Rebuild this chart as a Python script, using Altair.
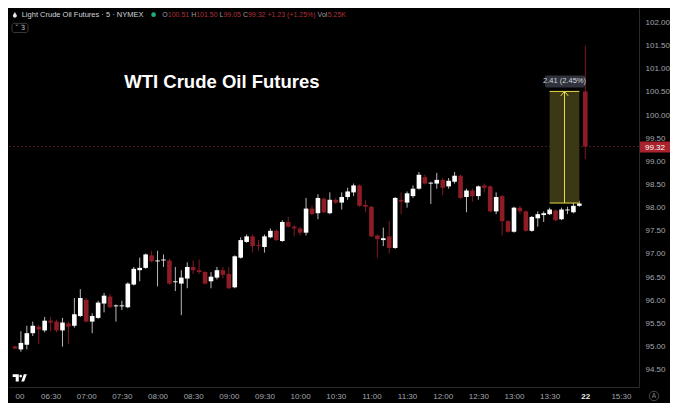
import altair as alt
import pandas as pd

# ---------------- data ----------------
opens = [95.00, 94.94, 95.04, 95.29, 95.43, 95.35, 95.56, 95.54, 95.35, 95.50,
         95.45, 95.66, 96.01, 95.54, 95.62, 95.93, 96.08, 95.87, 95.87, 95.85,
         96.34, 96.65, 96.70, 96.97, 96.84, 96.86, 96.86, 96.39, 96.36, 96.47,
         96.72, 96.65, 96.61, 96.41, 96.49, 96.65, 96.57, 96.28, 96.92, 97.26,
         97.38, 97.19, 97.15, 97.36, 97.50, 97.28, 97.69, 97.59, 97.55, 97.46,
         97.98, 97.88, 98.19, 97.88, 98.17, 98.11, 98.23, 98.33, 98.48, 98.06,
         98.02, 97.40, 97.30, 97.38, 97.13, 98.17, 98.11, 98.25, 98.41, 98.66,
         98.52, 98.52, 98.60, 98.46, 98.56, 98.69, 98.23, 98.37, 98.25, 98.48,
         98.46, 97.92, 98.25, 97.71, 97.48, 98.00, 97.92, 97.50, 97.77, 97.84,
         97.86, 97.94, 97.75, 97.94, 97.90, 98.04, 100.51]
highs = [95.02, 95.33, 95.45, 95.54, 95.47, 95.64, 95.64, 95.58, 95.62, 95.54,
         96.05, 96.24, 96.05, 95.72, 95.99, 96.16, 96.14, 95.91, 95.99, 96.39,
         96.72, 96.92, 97.01, 97.07, 97.07, 96.99, 96.90, 96.72, 96.65, 96.82,
         96.86, 96.88, 96.63, 96.61, 96.72, 96.72, 96.72, 96.97, 97.36, 97.42,
         97.42, 97.30, 97.42, 97.55, 97.53, 97.73, 97.80, 97.63, 97.59, 98.21,
         98.04, 98.29, 98.23, 98.33, 98.21, 98.33, 98.43, 98.52, 98.50, 98.17,
         98.04, 97.42, 97.57, 97.71, 98.23, 98.33, 98.35, 98.48, 98.77, 98.71,
         98.56, 98.75, 98.64, 98.64, 98.77, 98.71, 98.41, 98.41, 98.48, 98.52,
         98.48, 98.33, 98.27, 97.73, 98.02, 98.04, 97.94, 97.82, 97.92, 97.92,
         98.00, 97.96, 98.00, 98.02, 98.15, 98.15, 101.50]
lows = [94.94, 94.89, 94.94, 95.23, 95.06, 95.31, 95.33, 95.31, 95.00, 95.06,
        95.41, 95.64, 95.52, 95.29, 95.60, 95.74, 95.83, 95.54, 95.79, 95.83,
        96.32, 96.41, 96.68, 96.82, 96.30, 96.72, 96.34, 96.20, 95.68, 96.26,
        96.57, 96.57, 96.34, 96.26, 96.45, 96.47, 96.24, 96.26, 96.90, 97.24,
        97.03, 97.07, 97.03, 97.34, 97.28, 97.26, 97.57, 97.38, 97.40, 97.40,
        97.84, 97.75, 97.88, 97.86, 98.08, 97.96, 98.17, 98.25, 98.02, 97.90,
        97.36, 96.92, 97.17, 97.01, 97.11, 97.86, 98.00, 98.21, 98.39, 98.50,
        98.08, 98.41, 98.27, 98.41, 98.52, 98.19, 97.90, 98.13, 98.17, 98.33,
        97.90, 97.86, 97.40, 97.46, 97.46, 97.86, 97.48, 97.48, 97.59, 97.69,
        97.84, 97.71, 97.73, 97.86, 97.88, 98.02, 99.05]
closes = [94.96, 95.08, 95.29, 95.45, 95.37, 95.56, 95.52, 95.35, 95.52, 95.43,
          95.70, 96.05, 95.54, 95.66, 95.95, 96.10, 95.85, 95.89, 95.89, 96.36,
          96.68, 96.70, 96.99, 96.84, 96.86, 96.88, 96.36, 96.41, 96.49, 96.72,
          96.65, 96.61, 96.36, 96.51, 96.65, 96.55, 96.26, 96.95, 97.30, 97.38,
          97.17, 97.17, 97.38, 97.50, 97.30, 97.69, 97.59, 97.55, 97.46, 97.98,
          97.86, 98.21, 97.90, 98.17, 98.11, 98.23, 98.35, 98.48, 98.04, 98.02,
          97.38, 97.32, 97.34, 97.13, 98.21, 98.13, 98.31, 98.41, 98.71, 98.52,
          98.54, 98.60, 98.43, 98.58, 98.69, 98.21, 98.37, 98.25, 98.46, 98.43,
          97.92, 98.23, 97.71, 97.48, 98.00, 97.92, 97.50, 97.80, 97.86, 97.88,
          97.96, 97.73, 97.96, 97.96, 98.04, 98.09, 99.32]
slots = list(range(len(opens)))  # 5-minute bar slots, 0 = 06:00

y_ticks = [94.5, 95.0, 95.5, 96.0, 96.5, 97.0, 97.5, 98.0, 98.5,
           99.0, 99.5, 100.0, 100.5, 101.0, 101.5, 102.0]
x_tick_slots = [0, 6, 12, 18, 24, 30, 36, 42, 48, 54, 60, 66, 72, 78, 84, 90, 96, 102]
x_tick_labels = ["00", "06:30", "07:00", "07:30", "08:00", "08:30", "09:00", "09:30",
                 "10:00", "10:30", "11:00", "11:30", "12:00", "12:30", "13:00",
                 "13:30", "22", "15:30"]

last_price = 99.32
measure_from = 98.10
measure_to = 100.51
measure_slots = [90, 95]
measure_label = "2.41 (2.45%)"
label_box_slots = [89.2, 96.0]

chart_title = "WTI Crude Oil Futures"
header_name = "Light Crude Oil Futures · 5 · NYMEX"
header_parts = ["O", "100.51", "H", "101.50", "L", "99.05", "C", "99.32",
                "+1.23 (+1.25%)", "Vol", "5.25K"]
header_kinds = ["key", "val", "key", "val", "key", "val", "key", "val",
                "val", "key", "val"]
legend_count = "˅ 3"

# ---------------- layout / style ----------------
W, H = 630, 379
SX, SY = W / 645.0, H / 395.0
FONT = "Liberation Sans"
UP, DOWN = "#ffffff", "#8e1c25"
UP_WICK, DOWN_WICK = "#b8b8b8", "#7e1c24"
AXIS_TXT = "#a3a6ae"
YEL = "#e9dc45"

x_scale = alt.Scale(domain=[-0.16, 104.2], nice=False, zero=False)
y_scale = alt.Scale(domain=[94.128, 102.311], nice=False, zero=False)

label_expr = ("[" + ",".join("'%s'" % s for s in x_tick_labels) + "][indexof(["
              + ",".join(str(v) for v in x_tick_slots) + "], datum.value)]")

x_axis = alt.Axis(values=x_tick_slots, labelExpr=label_expr, title=None, grid=False,
                  ticks=False, domainColor="#2b2b2b", labelFontSize=8, labelFont=FONT,
                  labelPadding=5, labelOverlap=False, labelFlush=False,
                  labelColor={"condition": {"test": "datum.value == 96", "value": "#ececec"},
                              "value": AXIS_TXT},
                  labelFontWeight={"condition": {"test": "datum.value == 96", "value": "bold"},
                                   "value": "normal"},
                  labelAlign={"condition": {"test": "datum.value == 0", "value": "left"},
                              "value": "center"})
y_axis = alt.Axis(orient="right", values=y_ticks, format=".2f", title=None, grid=False,
                  ticks=False, domainColor="#2b2b2b", labelColor=AXIS_TXT, labelFontSize=8,
                  labelFont=FONT, labelPadding=6, labelOverlap=False, labelAlign="left")


def X(field):
    return alt.X(field, scale=x_scale, axis=x_axis)


def Y(field):
    return alt.Y(field, scale=y_scale, axis=y_axis)


candles = pd.DataFrame({"slot": slots, "open": opens, "high": highs,
                        "low": lows, "close": closes})
up_test = "datum.close >= datum.open"

wicks = alt.Chart(candles).mark_rule(strokeWidth=1).encode(
    x=X("slot:Q"), y=Y("low:Q"), y2="high:Q",
    color=alt.condition(up_test, alt.value(UP_WICK), alt.value(DOWN_WICK)),
)
bodies = alt.Chart(candles).mark_bar(size=4.6).encode(
    x=X("slot:Q"), y=Y("open:Q"), y2="close:Q",
    color=alt.condition(up_test, alt.value(UP), alt.value(DOWN)),
)

price_df = pd.DataFrame({"price": [last_price], "txt": ["%.2f" % last_price]})
price_line = alt.Chart(price_df).mark_rule(color="#4e1c22", strokeWidth=1,
                                           strokeDash=[2, 2]).encode(y=Y("price:Q"))

mdf = pd.DataFrame({"x0": [measure_slots[0]], "x1": [measure_slots[1]],
                    "xm": [(measure_slots[0] + measure_slots[1]) / 2],
                    "y0": [measure_from], "y1": [measure_to],
                    "lx0": [label_box_slots[0]], "lx1": [label_box_slots[1]],
                    "txt": [measure_label]})
mbox = alt.Chart(mdf).mark_rect(fill="#3a3815").encode(
    x=X("x0:Q"), x2="x1:Q", y=Y("y0:Q"), y2="y1:Q")
edges_df = pd.DataFrame({"y": [measure_from, measure_to],
                         "x0": [measure_slots[0]] * 2, "x1": [measure_slots[1]] * 2})
medges = alt.Chart(edges_df).mark_rule(color=YEL, strokeWidth=1).encode(
    x=X("x0:Q"), x2="x1:Q", y=Y("y:Q"))
marrow = alt.Chart(mdf).mark_rule(color=YEL, strokeWidth=1).encode(
    x=X("xm:Q"), y=Y("y0:Q"), y2="y1:Q")
mhead = alt.Chart(mdf).mark_point(shape="M-1,1.2L0,0L1,1.2", filled=False, stroke=YEL,
                                  strokeWidth=1, size=56, opacity=1).encode(
    x=X("xm:Q"), y=Y("y1:Q"))
lbox = alt.Chart(mdf).mark_rect(fill="#30333d", cornerRadius=2, yOffset=-16,
                                y2Offset=-4).encode(
    x=X("lx0:Q"), x2="lx1:Q", y=Y("y1:Q"), y2="y1:Q")
ltext = alt.Chart(mdf).mark_text(fontSize=7.5, font=FONT, color="#d6d8de",
                                 baseline="middle", dy=-10).encode(
    x=X("xm:Q"), y=Y("y1:Q"), text="txt:N")

# last price tag on the price scale
ptag = alt.Chart(price_df).mark_rect(fill="#a8232e", yOffset=-5, y2Offset=6).encode(
    x=alt.value(W + 1), x2=alt.value(W + 31), y=Y("price:Q"), y2="price:Q")
ptext = alt.Chart(price_df).mark_text(align="left", baseline="middle", fontSize=8,
                                      font=FONT, color="#ffffff", dy=1).encode(
    x=alt.value(W + 6), y=Y("price:Q"), text="txt:N")

# title
title = alt.Chart(pd.DataFrame({"t": [chart_title]})).mark_text(
    align="left", baseline="middle", fontSize=18.5, fontWeight="bold", font=FONT,
    color="#ffffff").encode(x=alt.value(118 * SX), y=alt.value(77 * SY), text="t:N")

# header line
CW = {"0": .556, "1": .556, "2": .556, "3": .556, "4": .556, "5": .556, "6": .556,
      "7": .556, "8": .556, "9": .556, ".": .278, " ": .278, "+": .584, "(": .333,
      ")": .333, "%": .889, "O": .778, "H": .722, "L": .556, "C": .722, "V": .667,
      "o": .556, "l": .222, "K": .667}
HF = 7.0
xs, x = [], 157 * SX
for part in header_parts:
    xs.append(x)
    x += sum(CW.get(ch, .556) for ch in part) * HF
    if part not in ("O", "H", "L", "C", "Vol"):
        x += CW[" "] * HF
hdf = pd.DataFrame({"txt": header_parts, "kind": header_kinds, "x": xs})
header_vals = alt.Chart(hdf).mark_text(align="left", baseline="middle", fontSize=HF,
                                       font=FONT).encode(
    x=alt.X("x:Q", scale=None), y=alt.value(7 * SY), text="txt:N",
    color=alt.Color("kind:N", scale=alt.Scale(domain=["key", "val"],
                                              range=["#9a9da6", "#b0303a"]), legend=None))
header_name_t = alt.Chart(pd.DataFrame({"t": [header_name]})).mark_text(
    align="left", baseline="middle", fontSize=7.5, font=FONT, color="#d1d4dc").encode(
    x=alt.value(13 * SX), y=alt.value(7 * SY), text="t:N")
dot = alt.Chart(pd.DataFrame({"a": [1]})).mark_point(
    shape="circle", filled=True, color="#22ab7e", size=22, opacity=1).encode(
    x=alt.value(148 * SX), y=alt.value(7 * SY))
drop = alt.Chart(pd.DataFrame({"a": [1]})).mark_point(
    shape="M0,-1L0.7,0.2A0.72,0.72 0 1,1 -0.7,0.2Z", filled=True, color="#e6e6e6",
    size=30, opacity=1).encode(x=alt.value(6 * SX), y=alt.value(7 * SY))
lbox2 = alt.Chart(pd.DataFrame({"a": [1]})).mark_rect(
    fill="#000000", stroke="#3a3a3a", strokeWidth=1, cornerRadius=2).encode(
    x=alt.value(3), x2=alt.value(19), y=alt.value(16 * SY), y2=alt.value(25.5 * SY))
lcount = alt.Chart(pd.DataFrame({"t": [legend_count]})).mark_text(
    align="center", baseline="middle", fontSize=7, font="DejaVu Sans",
    color="#c9cbd1").encode(x=alt.value(11), y=alt.value(20.8 * SY), text="t:N")

# TradingView logo glyph (shape, bottom-left)
logo = alt.Chart(pd.DataFrame({"a": [1]})).mark_point(
    shape=("M-0.93,-0.5L-0.07,-0.5L-0.07,0.5L-0.5,0.5L-0.5,-0.14L-0.93,-0.14Z"
           "M0.02,-0.26A0.19,0.19 0 1,0 0.4,-0.26A0.19,0.19 0 1,0 0.02,-0.26Z"
           "M0.29,0.5L0.64,-0.5L1.07,-0.5L0.69,0.5Z"),
    filled=True, color="#ffffff", size=200, opacity=1).encode(
    x=alt.value(10.5 * SX), y=alt.value(385.5 * SY))

# auto-scale button
abtn = alt.Chart(pd.DataFrame({"a": [1]})).mark_point(
    shape="circle", filled=False, stroke="#4a4a4a", strokeWidth=1, size=90,
    opacity=1).encode(x=alt.value(W + 15), y=alt.value(H + 9))
atext = alt.Chart(pd.DataFrame({"t": ["A"]})).mark_text(
    fontSize=6.5, font=FONT, color="#8a8a8a", baseline="middle").encode(
    x=alt.value(W + 15), y=alt.value(H + 9.3), text="t:N")

chart = alt.layer(
    wicks, price_line, mbox, bodies, medges, marrow, mhead, lbox, ltext,
    ptag, ptext, title, header_name_t, dot, drop, header_vals, lbox2, lcount,
    logo, abtn, atext,
).properties(
    width=W, height=H, padding=0, background="#000000"
).configure_view(strokeWidth=0)

chart.save("out.html", embed_options={"renderer": "svg", "actions": False})
